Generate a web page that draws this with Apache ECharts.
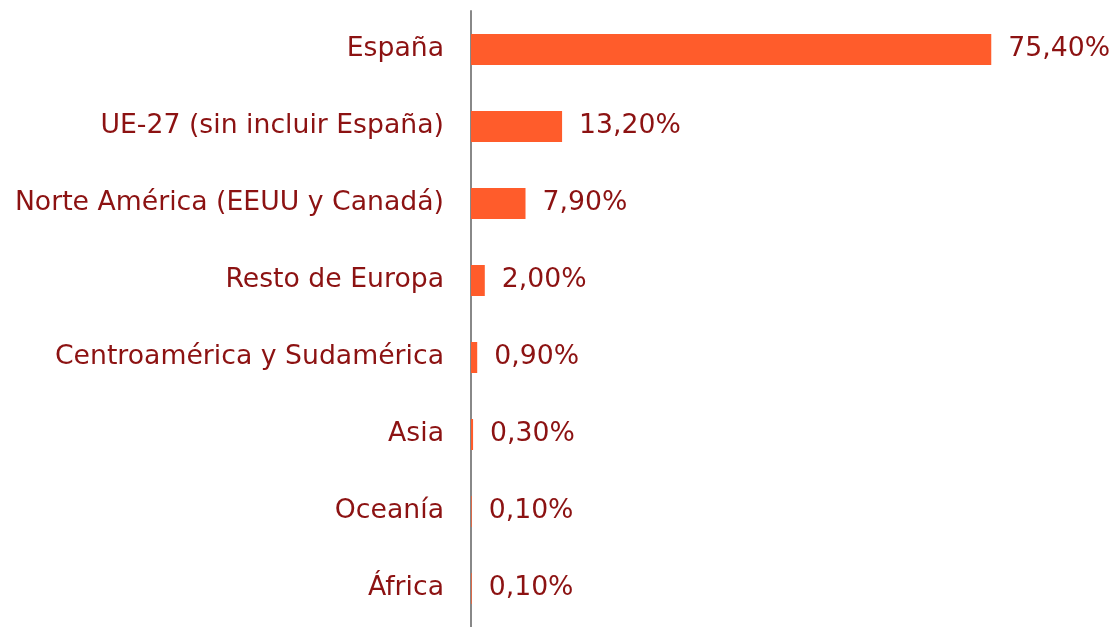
<!DOCTYPE html>
<html>
<head>
<meta charset="utf-8">
<script src="https://cdn.jsdelivr.net/npm/echarts@6/dist/echarts.min.js"></script>
<style>
  html, body { margin: 0; padding: 0; background: #fff; }
  #chart { width: 1115px; height: 627px; }
</style>
</head>
<body>
<div id="chart"></div>
<script>
const categories = [
  'España',
  'UE-27 (sin incluir España)',
  'Norte América (EEUU y Canadá)',
  'Resto de Europa',
  'Centroamérica y Sudamérica',
  'Asia',
  'Oceanía',
  'África',
];
const shares = [75.4, 13.2, 7.9, 2.0, 0.9, 0.3, 0.1, 0.1];

const textColor = '#8c1212';
const barColor = '#ff5c2b';
const font = '"DejaVu Sans", Verdana, sans-serif';

const chart = echarts.init(document.getElementById('chart'));
chart.setOption({
  animation: false,
  grid: { left: 471, right: 92, top: 11, bottom: -7, containLabel: false },
  xAxis: {
    type: 'value',
    min: 0,
    max: 80,
    show: false,
  },
  yAxis: {
    type: 'category',
    inverse: true,
    data: categories,
    axisLine: { show: true, lineStyle: { color: '#888', width: 2 } },
    axisTick: { show: false },
    axisLabel: {
      color: textColor,
      fontFamily: font,
      fontSize: 26.7,
      margin: 27,
    },
  },
  series: [
    {
      type: 'bar',
      data: shares,
      barWidth: 31,
      itemStyle: { color: barColor },
      label: {
        show: true,
        position: 'right',
        distance: 17,
        color: textColor,
        fontFamily: font,
        fontSize: 26.7,
        formatter: p => p.value.toFixed(2).replace('.', ',') + '%',
      },
    },
  ],
});
</script>
</body>
</html>
